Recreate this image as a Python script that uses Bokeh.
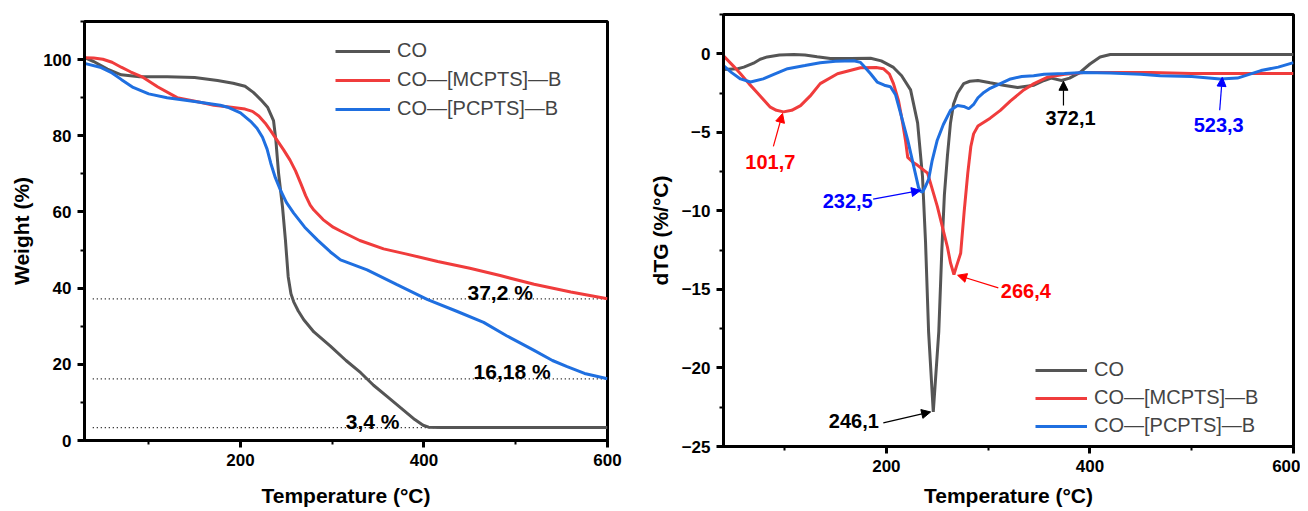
from bokeh.plotting import figure
from bokeh.layouts import row, column
from bokeh.models import (Range1d, SingleIntervalTicker, Legend, LegendItem, Arrow,
                          NormalHead)
from bokeh.core.properties import value
from bokeh.embed import file_html
from bokeh.resources import INLINE

FONT = "Liberation Sans"

series_names = ["CO", "CO\u2014[MCPTS]\u2014B", "CO\u2014[PCPTS]\u2014B"]
series_colors = ["#555555", "#F03C3C", "#1F6FE0"]

# ---------------- TG (left) ----------------
tg_co_x = [30, 40, 55, 70, 90, 120, 150, 175, 192, 205, 214, 222, 229.5, 236, 238.5, 241.5,
           245.8, 249, 252, 255, 258, 263, 269, 280, 298, 315, 331, 345, 360, 375, 390, 399,
           405, 420, 500, 600]
tg_co_y = [100.5, 99.5, 97.5, 96, 95.5, 95.5, 95.3, 94.5, 93.8, 93, 91.4, 89.5, 87.5, 84, 79,
           70.2, 61.3, 52.6, 43, 38.5, 36.4, 34, 31.7, 28.5, 24.8, 21, 17.8, 14.5, 11.5, 8.5,
           5.5, 4, 3.5, 3.4, 3.4, 3.4]

tg_m_x = [30, 40, 50, 60, 70, 80, 94, 110, 131, 156, 171, 190, 205, 213, 220, 227, 233, 240,
          247, 254, 260, 266, 271, 276, 280, 290, 301, 309, 330, 356, 380, 415, 450, 483, 520,
          560, 600]
tg_m_y = [100.5, 100.4, 100.1, 99.3, 98, 96.8, 95.3, 92.8, 90, 88.8, 88, 87.5, 87, 86.4, 85.2,
          83.3, 81.3, 78.8, 76.3, 73.6, 70.8, 67.3, 64.3, 61.8, 60.5, 58, 56, 55, 52.5, 50.3,
          49, 47, 45.2, 43.3, 41, 39, 37.2]

tg_p_x = [30, 47, 60, 70, 83, 100, 120, 150, 178, 186, 200, 211, 218, 224, 229, 233, 238,
          243.6, 250, 258, 270, 284, 298, 309, 338, 370, 404, 435, 465, 490, 519, 540, 556,
          575, 600]
tg_p_y = [99, 98, 96.5, 94.8, 92.7, 91, 90, 89, 88, 87.5, 86, 83.8, 82, 79.6, 76.5, 72.8, 69,
          65.7, 62.5, 59.7, 56, 52.6, 49.5, 47.4, 44.8, 41, 37, 34, 31, 27.5, 23.8, 21, 19.4,
          17.6, 16.2]

residue_levels = [37.2, 16.18, 3.4]
residue_labels = ["37,2 %", "16,18 %", "3,4 %"]
residue_label_x = [483, 496, 344]
residue_label_y = [38.8, 18.0, 5.0]
residue_line_x = [39, 600]

# ---------------- dTG (right) ----------------
dtg_co_x = [40, 54, 60, 69.5, 76, 83, 95, 109, 120, 132, 145, 165, 184.5, 195, 207, 215, 223.8,
            230.7, 235.5, 238.5, 241.5, 246.1, 251.5, 254.5, 257, 260, 263, 266, 270, 276, 282,
            290, 302, 315, 329, 345, 355, 362, 372.1, 380, 390, 400, 410, 420, 450, 500, 550,
            600]
dtg_co_y = [-1.0, -0.95, -0.85, -0.6, -0.35, -0.2, -0.08, -0.05, -0.08, -0.19, -0.3, -0.3,
            -0.28, -0.45, -0.87, -1.4, -2.3, -4.4, -7.8, -12.0, -17.7, -22.8, -17.7, -12.5,
            -9.0, -6.5, -4.4, -3.2, -2.5, -1.9, -1.75, -1.7, -1.85, -2.0, -2.15, -2.0, -1.7,
            -1.55, -1.7, -1.55, -1.2, -0.65, -0.2, -0.05, -0.05, -0.05, -0.05, -0.05]

dtg_m_x = [40, 50, 56.7, 65, 73.4, 86, 92, 99, 107, 115.7, 125, 135, 152, 174.6, 190, 197, 203,
           207, 212, 216, 219, 221, 226, 230.7, 240.5, 250, 255, 260, 263, 266.4, 269, 273,
           276.5, 280, 283, 285.7, 290, 302, 312, 322, 335, 345, 358, 375, 394, 420, 460, 500,
           550, 600]
dtg_m_y = [-0.13, -0.8, -1.27, -1.9, -2.5, -3.4, -3.6, -3.7, -3.6, -3.3, -2.7, -1.9, -1.27,
           -0.89, -0.87, -0.95, -1.3, -1.9, -3.0, -4.4, -5.6, -6.6, -6.9, -7.1, -7.6, -9.7,
           -11.0, -12.3, -13.3, -14.05, -13.5, -12.7, -10, -7.6, -5.9, -5.1, -4.6, -4.1, -3.6,
           -3.0, -2.3, -1.9, -1.5, -1.3, -1.2, -1.2, -1.2, -1.25, -1.25, -1.25]

dtg_p_x = [40, 48, 56.7, 66.5, 79, 90, 103, 120, 135, 150, 168, 174.6, 177.6, 184.5, 191, 198,
           204, 209, 214, 221, 227, 231.6, 233.5, 235.6, 238, 241.5, 245, 250, 256, 263, 270,
           276, 281, 286, 290, 295, 302, 312, 322, 333, 344.7, 355, 375, 394, 420, 450, 469,
           500, 528, 545, 568, 585, 600]
dtg_p_y = [-0.76, -1.2, -1.6, -1.8, -1.6, -1.3, -0.95, -0.75, -0.57, -0.48, -0.44, -0.55,
           -0.76, -1.27, -1.8, -2.0, -2.1, -2.6, -3.8, -5.5, -7.2, -8.5, -8.75, -8.8, -8.5,
           -8.0, -6.8, -5.5, -4.5, -3.6, -3.3, -3.35, -3.5, -3.2, -2.8, -2.5, -2.2, -1.9, -1.6,
           -1.45, -1.4, -1.3, -1.25, -1.2, -1.22, -1.3, -1.4, -1.45, -1.6, -1.55, -1.07, -0.85,
           -0.56]

peak_labels = ["101,7", "232,5", "246,1", "266,4", "372,1", "523,3"]
peak_colors = ["#FF0000", "#0000FF", "#000000", "#FF0000", "#000000", "#0000FF"]
peak_text_x = [86, 162, 168, 337, 381, 526.5]
peak_text_y = [-6.9, -9.4, -23.4, -15.1, -4.1, -4.55]
arrow_x0 = [89, 187, 197, 310, 374, 527.5]
arrow_y0 = [-5.9, -9.25, -23.5, -14.9, -3.3, -3.6]
arrow_x1 = [98, 233.6, 243.5, 270, 374, 530]
arrow_y1 = [-3.8, -8.7, -22.8, -14.1, -1.75, -1.5]


def style(p, xlabel, ylabel, y_interval):
    p.outline_line_color = "black"
    p.outline_line_width = 3
    p.outline_line_alpha = 1
    p.xgrid.visible = False
    p.ygrid.visible = False
    p.xaxis.ticker = SingleIntervalTicker(interval=200, num_minor_ticks=2)
    p.yaxis.ticker = SingleIntervalTicker(interval=y_interval, num_minor_ticks=2)
    for ax in (p.xaxis, p.yaxis):
        ax.axis_line_width = 3
        ax.axis_line_color = "black"
        ax.major_tick_line_width = 3
        ax.minor_tick_line_width = 2
        ax.major_tick_out = 7
        ax.major_tick_in = 0
        ax.minor_tick_out = 4
        ax.minor_tick_in = 0
        ax.major_label_text_font = FONT
        ax.major_label_text_font_style = "bold"
        ax.major_label_text_font_size = "17px"
        ax.major_label_text_color = "black"
        ax.axis_label_text_font = FONT
        ax.axis_label_text_font_style = "bold"
        ax.axis_label_text_font_size = "21px"
        ax.axis_label_text_color = "black"
    p.xaxis.axis_label = xlabel
    p.yaxis.axis_label = ylabel
    p.xaxis.major_label_standoff = 6
    p.xaxis.axis_label_standoff = 15
    p.yaxis.major_label_standoff = 6
    p.yaxis.axis_label_standoff = 7


# ---------- left figure ----------
p1 = figure(width=645, height=509, output_backend="svg", toolbar_location=None,
            x_range=Range1d(30, 600), y_range=Range1d(0, 110),
            min_border_left=84, min_border_right=38, min_border_top=21, min_border_bottom=68)
style(p1, "Temperature (\u00b0C)", "Weight (%)", 20)

for lvl in residue_levels:
    p1.line(residue_line_x, [lvl, lvl], line_color="black", line_width=1.2, line_dash="1 3")

r_left = []
for xs, ys, c in zip([tg_co_x, tg_m_x, tg_p_x], [tg_co_y, tg_m_y, tg_p_y], series_colors):
    r_left.append(p1.line(xs, ys, line_color=c, line_width=3))

p1.text(x=residue_label_x, y=residue_label_y, text=residue_labels, text_font=value(FONT),
        text_font_style="bold", text_font_size="21px", text_align="center",
        text_baseline="middle", text_color="black")

leg1 = Legend(items=[LegendItem(label=n, renderers=[r]) for n, r in zip(series_names, r_left)],
              location=(251, 320), padding=0, margin=0, spacing=6,
              glyph_width=55, glyph_height=20, label_height=20, label_standoff=7,
              label_text_font=FONT, label_text_font_size="20px",
              border_line_alpha=0, background_fill_alpha=0)
p1.add_layout(leg1)

# ---------- right figure ----------
p2 = figure(width=655, height=509, output_backend="svg", toolbar_location=None,
            x_range=Range1d(40, 600), y_range=Range1d(-25, 2.5),
            min_border_left=78, min_border_right=7, min_border_top=14, min_border_bottom=61)
style(p2, "Temperature (\u00b0C)", "dTG (%/\u00b0C)", 5)
p2.xaxis.major_label_standoff = 6
p2.xaxis.axis_label_standoff = 9

r_right = []
for xs, ys, c in zip([dtg_co_x, dtg_m_x, dtg_p_x], [dtg_co_y, dtg_m_y, dtg_p_y], series_colors):
    r_right.append(p2.line(xs, ys, line_color=c, line_width=3))

for i in range(len(peak_labels)):
    c = peak_colors[i]
    p2.add_layout(Arrow(end=NormalHead(size=9, fill_color=c, line_color=c, line_width=1),
                        x_start=arrow_x0[i], y_start=arrow_y0[i],
                        x_end=arrow_x1[i], y_end=arrow_y1[i],
                        line_color=c, line_width=1.2))

p2.text(x=peak_text_x, y=peak_text_y, text=peak_labels, text_font=value(FONT),
        text_font_style="bold", text_font_size="20px", text_align="center",
        text_baseline="middle", text_color=peak_colors)

leg2 = Legend(items=[LegendItem(label=n, renderers=[r]) for n, r in zip(series_names, r_right)],
              location=(312, 9), padding=0, margin=0, spacing=5,
              glyph_width=52, glyph_height=20, label_height=20, label_standoff=7,
              label_text_font=FONT, label_text_font_size="20px",
              border_line_alpha=0, background_fill_alpha=0)
p2.add_layout(leg2)

layout = row(p1, column(p2))
open("out.html", "w").write(file_html(layout, INLINE))
